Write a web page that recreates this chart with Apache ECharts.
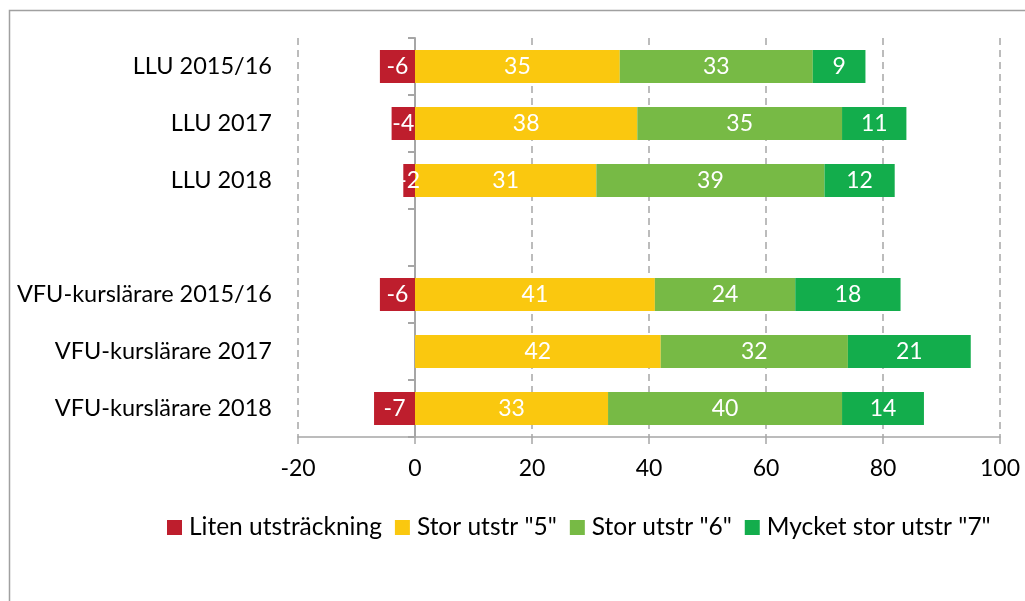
<!DOCTYPE html>
<html>
<head>
<meta charset="utf-8">
<script src="https://cdn.jsdelivr.net/npm/echarts@6/dist/echarts.min.js"></script>
<style>
  html, body { margin: 0; padding: 0; background: #fff; }
  #chart { width: 1025px; height: 601px; }
</style>
</head>
<body>
<div id="chart"></div>
<script>
const categories = ['LLU 2015/16', 'LLU 2017', 'LLU 2018', '', 'VFU-kurslärare 2015/16', 'VFU-kurslärare 2017', 'VFU-kurslärare 2018'];
const seriesNames = ['Liten utsträckning', 'Stor utstr "5"', 'Stor utstr "6"', 'Mycket stor utstr "7"'];
const litenValues = [-6, -4, -2, '-', -6, '-', -7];
const stor5Values = [35, 38, 31, '-', 41, 42, 33];
const stor6Values = [33, 35, 39, '-', 24, 32, 40];
const stor7Values = [9, 11, 12, '-', 18, 21, 14];
const xTicks = { min: -20, max: 100, interval: 20 };

const COLORS = ['#BE1E2D', '#FAC80F', '#77BA45', '#13AD4C'];
const FONT = 'Lato';
const GRID_GREY = '#A6A6A6';

const chart = echarts.init(document.getElementById('chart'), null, { renderer: 'canvas' });

const makeSeries = (name, data, color) => ({
  name: name,
  type: 'bar',
  stack: 'total',
  yAxisIndex: 0,
  barWidth: 33,
  data: data,
  itemStyle: { color: color },
  label: {
    show: true,
    position: 'inside',
    color: '#ffffff',
    fontFamily: FONT,
    fontSize: 23,
    formatter: (p) => (p.value === '-' || p.value == null || p.value === 0) ? '' : p.value
  },
  emphasis: { disabled: true }
});

chart.setOption({
  animation: false,
  textStyle: { fontFamily: FONT },
  graphic: [{
    type: 'rect',
    shape: { x: 9.5, y: 10.5, width: 1200, height: 800 },
    style: { fill: 'none', stroke: '#A0A0A0', lineWidth: 1.5 },
    silent: true
  }],
  grid: { left: 298, right: 25, top: 38, bottom: 164, containLabel: false },
  legend: {
    data: seriesNames,
    left: 162,
    top: 510,
    itemWidth: 15,
    itemHeight: 15,
    itemGap: 13,
    icon: 'rect',
    textStyle: { fontFamily: FONT, fontSize: 24.5, color: '#000', padding: [0, 0, 0, 2] }
  },
  xAxis: {
    type: 'value',
    min: xTicks.min,
    max: xTicks.max,
    interval: xTicks.interval,
    axisLine: { show: true, lineStyle: { color: GRID_GREY, width: 1.5 } },
    axisTick: { show: true, length: 7, lineStyle: { color: GRID_GREY, width: 1.5 } },
    axisLabel: { color: '#000', fontFamily: FONT, fontSize: 23, margin: 20 },
    splitLine: { show: true, lineStyle: { color: GRID_GREY, type: [7, 5], width: 1.5 } }
  },
  yAxis: [
    {
      type: 'category',
      data: categories,
      inverse: true,
      axisLine: { show: false, onZero: false },
      axisTick: { show: false },
      axisLabel: { color: '#000', fontFamily: FONT, fontSize: 23.5, margin: 26 }
    },
    {
      type: 'category',
      data: categories,
      inverse: true,
      position: 'left',
      axisLine: { show: true, onZero: true, lineStyle: { color: GRID_GREY, width: 2 } },
      axisTick: { show: true, length: 7, lineStyle: { color: GRID_GREY, width: 2 } },
      axisLabel: { show: false },
      splitLine: { show: false }
    }
  ],
  series: [
    makeSeries(seriesNames[0], litenValues, COLORS[0]),
    makeSeries(seriesNames[1], stor5Values, COLORS[1]),
    makeSeries(seriesNames[2], stor6Values, COLORS[2]),
    makeSeries(seriesNames[3], stor7Values, COLORS[3])
  ]
});
</script>
</body>
</html>
